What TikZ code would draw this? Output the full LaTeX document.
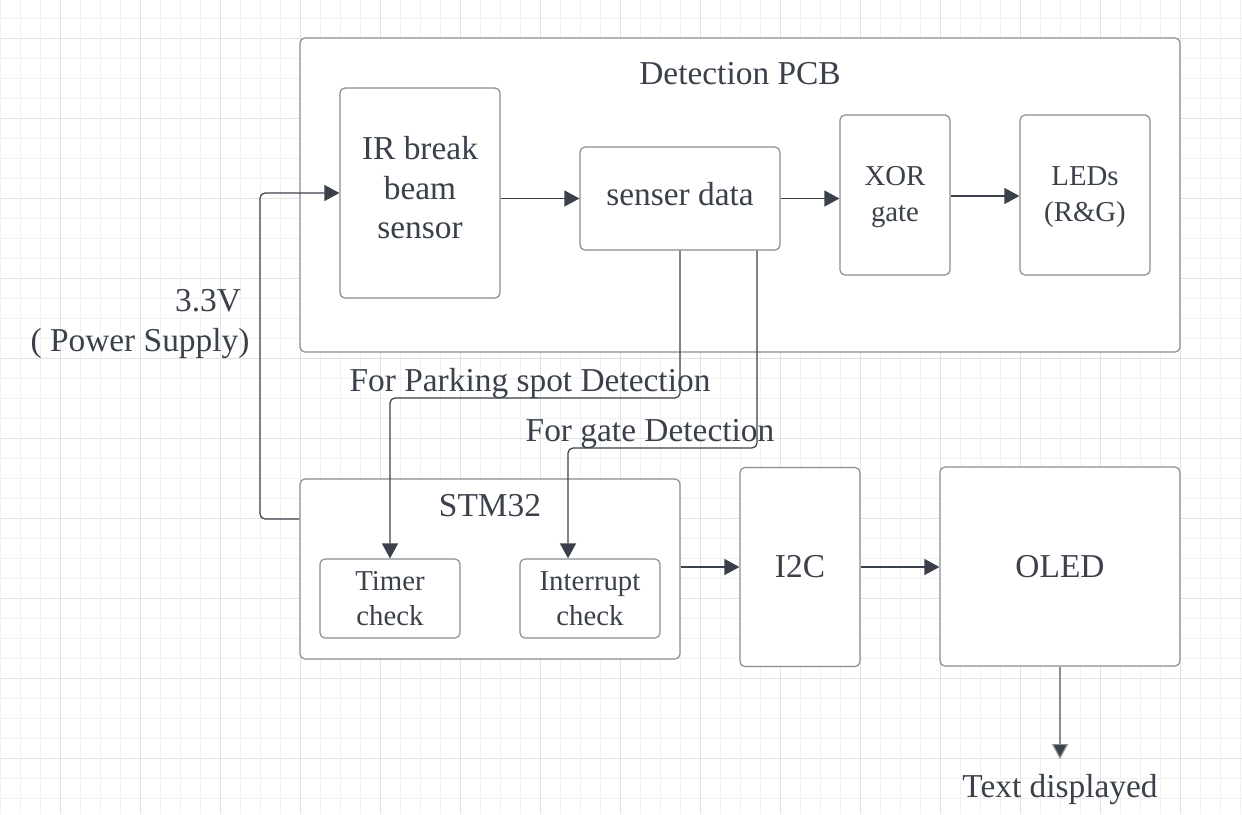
\documentclass[tikz,border=0pt]{standalone}
\usepackage{fontspec}
\setmainfont{Liberation Serif}
\usetikzlibrary{arrows.meta}
\definecolor{txt}{HTML}{3A414A}
\definecolor{edge}{HTML}{8A8E93}
\definecolor{gridminor}{HTML}{F1F1F1}
\definecolor{gridmajor}{HTML}{E2E2E2}
\begin{document}
\begin{tikzpicture}[x=1pt,y=-1pt,
  box/.style={draw=edge, line width=1.2pt, rounded corners=5pt, fill=white, text=txt, align=center, inner sep=0pt},
  big/.style={font=\fontsize{33.4}{39.5}\selectfont},
  small/.style={font=\fontsize{28.8}{35.5}\selectfont},
  lbl/.style={text=txt, inner sep=0pt, align=center},
  conn/.style={draw=txt, line width=1.2pt, -{Triangle[length=15pt,width=16pt,fill=txt]}},
  plain/.style={draw=txt, line width=1.2pt}]
\useasboundingbox (0,0) rectangle (1242,814);
\fill[white] (0,0) rectangle (1242,814);
% grid
\foreach \x in {0,20,...,1240} \draw[gridminor, line width=1pt] (\x,0) -- (\x,814);
\foreach \y in {18,38,...,814} \draw[gridminor, line width=1pt] (0,\y) -- (1242,\y);
\foreach \x in {60,140,...,1240} \draw[gridmajor, line width=1pt] (\x,0) -- (\x,814);
\foreach \y in {38,118,...,814} \draw[gridmajor, line width=1pt] (0,\y) -- (1242,\y);
% boxes
\node[box, minimum width=880pt, minimum height=314pt] (pcb) at (740,195) {};
\node[lbl, big] (pcbl) at (740,74) {Detection PCB};
\node[box, minimum width=160pt, minimum height=210pt] (ir) at (420,193) {};
\node[lbl, big] (irl) at (420,188) {IR break\\beam\\sensor};
\node[box, minimum width=200pt, minimum height=103pt] (sd) at (680,198.5) {};
\node[lbl, big] (sdl) at (680,194) {senser data};
\node[box, minimum width=110pt, minimum height=160pt] (xor) at (895,195) {};
\node[lbl, small] (xorl) at (895,197) {XOR\\gate};
\node[box, minimum width=130pt, minimum height=160pt] (led) at (1085,195) {};
\node[lbl, small] (ledl) at (1085,197) {LEDs\\(R\&G)};
\node[box, minimum width=380pt, minimum height=180pt] (stm) at (490,569) {};
\node[lbl, big] (stml) at (490,506) {STM32};
\node[box, small, minimum width=140pt, minimum height=79pt] (tim) at (390,598.5) {Timer\\check};
\node[box, small, minimum width=140pt, minimum height=79pt] (intr) at (590,598.5) {Interrupt\\check};
\node[box, big, minimum width=120pt, minimum height=199pt] (i2c) at (800,567) {I2C};
\node[box, big, minimum width=240pt, minimum height=199pt] (oled) at (1060,566.5) {OLED};
% labels
\node[lbl, big] (v33) at (208,301) {3.3V};
\node[lbl, big] (ps) at (140,344) {( Power Supply)};
\node[lbl, big] (park) at (530,384) {For Parking spot Detection};
\node[lbl, big] (gate) at (650,434) {For gate Detection};
\node[lbl, big] (txtd) at (1060,790) {Text displayed};
\coordinate (txtend) at (1060,759);
% connectors
\draw[conn, rounded corners=5pt] (stm.west |- 0,519) -- (260,519) -- (260,193) -- (ir.west);
\draw[conn] (ir.east |- sd.west) -- (sd.west);
\draw[conn] (sd.east) -- (xor.west |- sd.east);
\draw[conn] (xor.east |- 0,196) -- (led.west |- 0,196);
\draw[conn, rounded corners=5pt] (sd.south) -- (680,398) -- (390,398) -- (tim.north);
\draw[conn, rounded corners=5pt] (sd.south -| 757,0) -- (757,448) -- (568,448) -- (intr.north -| 568,0);
\draw[conn] (stm.east |- 0,567) -- (i2c.west |- 0,567);
\draw[conn] (i2c.east |- 0,567) -- (oled.west |- 0,567);
\draw[conn, draw=edge] (oled.south) -- (txtend);
\end{tikzpicture}
\end{document}
